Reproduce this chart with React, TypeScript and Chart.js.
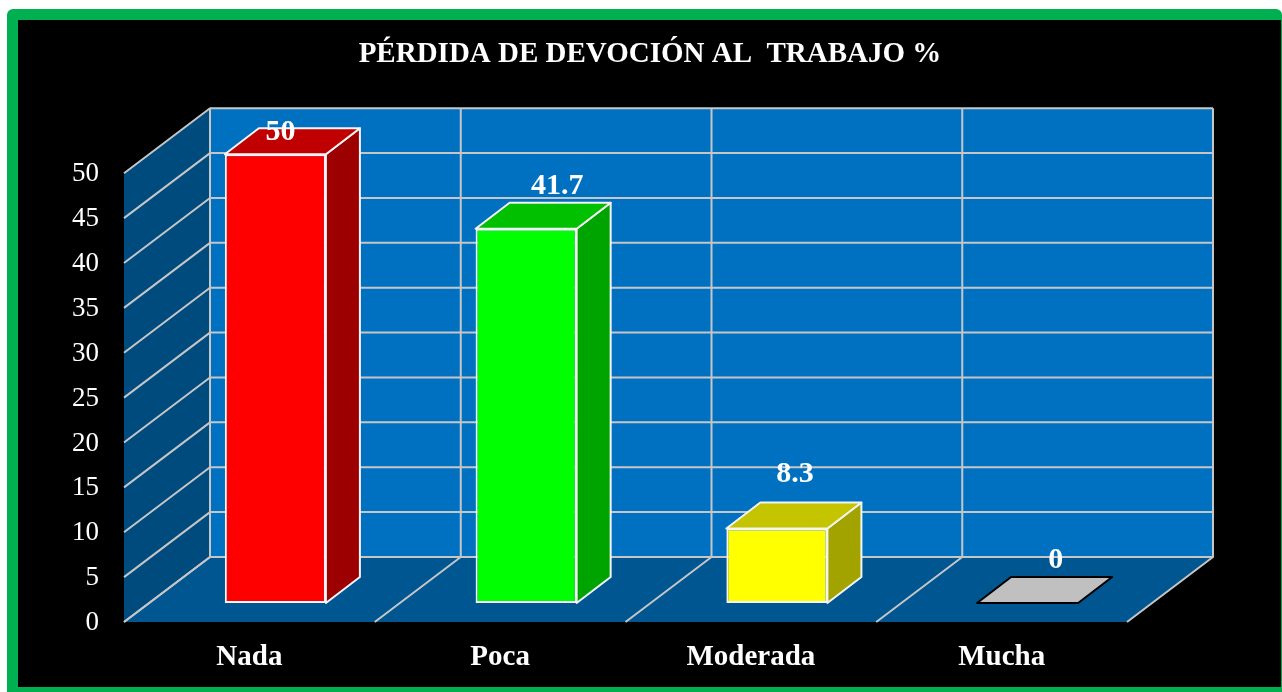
import React, { useEffect, useRef } from "react";
import { Chart, registerables } from "chart.js";

Chart.register(...registerables);

const categories = ["Nada", "Poca", "Moderada", "Mucha"];
const values = [50, 41.7, 8.3, 0];
const valueLabels = ["50", "41.7", "8.3", "0"];
const frontColors = ["#FF0000", "#00FF00", "#FFFF00", "#C0C0C0"];
const topColors = ["#C00000", "#00C000", "#C4C400", "#C0C0C0"];
const sideColors = ["#9C0000", "#00A400", "#A3A300", "#C0C0C0"];
const edgeColors = ["#F4F4F4", "#F4F4F4", "#F4F4F4", "#000000"];
const labelNudgeX = [5, 31, 18, 28];
const labelNudgeY = [-22, -42, -54, -43];

const TITLE = "PÉRDIDA DE DEVOCIÓN AL  TRABAJO %";
const SERIF = '"Liberation Serif", "Times New Roman", serif';
const WALL = { dx: 86, dy: -65 };
const BAR_FRONT = { dx: 26, dy: -19 };
const BAR_DEPTH = { dx: 34, dy: -26 };
const GRID = "#C6C6C6";

function poly(ctx: CanvasRenderingContext2D, pts: number[][], fill?: string, stroke?: string, lw = 2) {
  ctx.beginPath();
  pts.forEach(([x, y], i) => (i ? ctx.lineTo(x, y) : ctx.moveTo(x, y)));
  if (fill) {
    ctx.closePath();
    ctx.fillStyle = fill;
    ctx.fill();
  }
  if (stroke) {
    ctx.lineJoin = "round";
    ctx.lineWidth = lw;
    ctx.strokeStyle = stroke;
    ctx.stroke();
  }
}

const frame3d = {
  id: "frame3d",
  beforeDraw(chart: any) {
    const ctx = chart.ctx as CanvasRenderingContext2D;
    ctx.save();
    ctx.fillStyle = "#FFFFFF";
    ctx.fillRect(0, 0, 1282, 692);
    ctx.fillStyle = "#00B050";
    ctx.beginPath();
    ctx.roundRect(7, 9, 1275, 690, 6);
    ctx.fill();
    ctx.fillStyle = "#000000";
    ctx.fillRect(18, 20, 1263, 667);
    ctx.restore();
  },
  beforeDatasetsDraw(chart: any) {
    const ctx = chart.ctx as CanvasRenderingContext2D;
    const { x, y } = chart.scales;
    const { left, right, top, bottom } = chart.chartArea;
    const { dx, dy } = WALL;
    ctx.save();
    poly(ctx, [[left + dx, top + dy], [right + dx, top + dy], [right + dx, bottom + dy], [left + dx, bottom + dy]], "#0070C0");
    poly(ctx, [[left, top], [left + dx, top + dy], [left + dx, bottom + dy], [left, bottom]], "#004B7E");
    poly(ctx, [[left, bottom], [left + dx, bottom + dy], [right + dx, bottom + dy], [right, bottom]], "#005690");
    y.ticks.forEach((t: any) => {
      const py = y.getPixelForValue(t.value);
      poly(ctx, [[left, py], [left + dx, py + dy], [right + dx, py + dy]], undefined, GRID);
    });
    const w = (right - left) / categories.length;
    for (let i = 0; i <= categories.length; i++) {
      const px = i < categories.length ? x.getPixelForValue(i) - w / 2 : x.getPixelForValue(i - 1) + w / 2;
      poly(ctx, [[px, bottom], [px + dx, bottom + dy], [px + dx, top + dy]], undefined, GRID);
    }
    ctx.restore();
    ctx.save();
    ctx.translate(BAR_FRONT.dx, BAR_FRONT.dy);
  },
  afterDatasetsDraw(chart: any) {
    const ctx = chart.ctx as CanvasRenderingContext2D;
    ctx.restore();
    ctx.save();
    const bars = chart.getDatasetMeta(0).data;
    bars.forEach((b: any, i: number) => {
      const l = b.x - b.width / 2 + BAR_FRONT.dx;
      const r = b.x + b.width / 2 + BAR_FRONT.dx;
      const t = b.y + BAR_FRONT.dy;
      const base = b.base + BAR_FRONT.dy;
      const { dx, dy } = BAR_DEPTH;
      if (values[i] > 0) {
        poly(ctx, [[r, t], [r + dx, t + dy], [r + dx, base + dy], [r, base]], sideColors[i], edgeColors[i]);
      }
      poly(ctx, [[l, t], [l + dx, t + dy], [r + dx, t + dy], [r, t]], topColors[i], edgeColors[i]);
    });
    ctx.font = `bold 30px ${SERIF}`;
    ctx.fillStyle = "#FFFFFF";
    ctx.textAlign = "center";
    ctx.textBaseline = "middle";
    bars.forEach((b: any, i: number) => {
      ctx.fillText(valueLabels[i], b.x + BAR_FRONT.dx + labelNudgeX[i], b.y + BAR_FRONT.dy + labelNudgeY[i]);
    });
    ctx.restore();
  },
};

export default function App() {
  const ref = useRef<HTMLCanvasElement | null>(null);
  useEffect(() => {
    const chart = new Chart(ref.current as HTMLCanvasElement, {
      type: "bar",
      data: {
        labels: categories,
        datasets: [
          {
            label: "Pérdida de devoción al trabajo %",
            data: values,
            backgroundColor: frontColors,
            borderColor: edgeColors,
            borderWidth: 2,
            borderSkipped: false,
            barPercentage: 0.403,
            categoryPercentage: 1,
            clip: false,
          } as any,
        ],
      },
      options: {
        animation: false,
        responsive: false,
        layout: { padding: { left: 18, right: 0, top: 0, bottom: 0 } },
        plugins: {
          legend: { display: false },
          tooltip: { enabled: false },
          title: {
            display: true,
            text: TITLE,
            color: "#FFFFFF",
            font: { family: SERIF, size: 29, weight: "bold", lineHeight: 1.2 },
            padding: { top: 37, bottom: 101.4 },
          },
        },
        scales: {
          x: {
            grid: { display: false },
            border: { display: false },
            ticks: { color: "#FFFFFF", font: { family: SERIF, size: 29, weight: "bold" }, padding: 10, maxRotation: 0 },
            afterFit(s: any) {
              s.height = 70;
            },
          },
          y: {
            min: 0,
            max: 50,
            grid: { display: false },
            border: { display: false },
            ticks: { stepSize: 5, color: "#FFFFFF", font: { family: SERIF, size: 27 }, padding: 17, labelOffset: 1 },
            afterFit(s: any) {
              s.width = 106;
            },
          },
          spacer: {
            position: "right",
            min: 0,
            max: 50,
            grid: { display: false },
            border: { display: false },
            ticks: { display: false },
            afterFit(s: any) {
              s.width = 155;
            },
          },
        },
      } as any,
      plugins: [frame3d],
    });
    return () => chart.destroy();
  }, []);
  return (
    <canvas
      ref={ref}
      width={1282}
      height={692}
      style={{ position: "fixed", left: 0, top: 0, width: 1282, height: 692, display: "block" }}
    />
  );
}
